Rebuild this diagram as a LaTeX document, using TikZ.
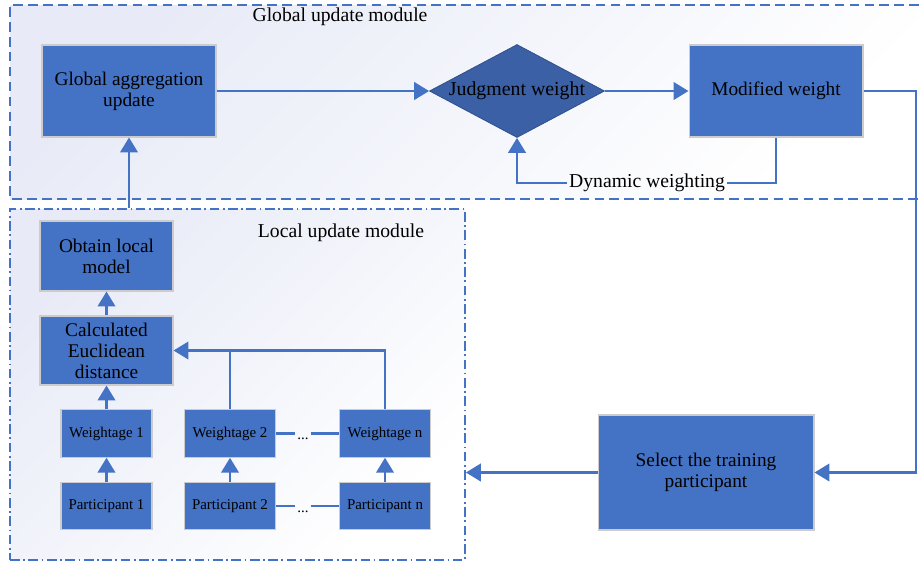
\documentclass[tikz,border=0pt]{standalone}
\usepackage{fontspec}
\setmainfont{Liberation Serif}
\usetikzlibrary{arrows.meta,positioning,shapes.geometric}
\definecolor{boxblue}{RGB}{68,114,196}
\definecolor{diablue}{RGB}{59,96,166}
\definecolor{modtint}{RGB}{232,235,247}

\begin{document}
\begin{tikzpicture}[x=0.02cm,y=-0.02cm,
  box/.style={draw=gray!40,line width=0.6pt,fill=boxblue,align=center,inner sep=1pt,font=\fontsize{11}{12}\selectfont},
  smallbox/.style={box,minimum width=1.82cm,minimum height=0.95cm,font=\fontsize{8.5}{10}\selectfont},
  link/.style={draw=boxblue,line width=1.3pt,-{Triangle[width=10pt,length=8.5pt]}},
  plain/.style={draw=boxblue,line width=1.3pt},
  modlabel/.style={font=\fontsize{11.2}{12}\selectfont},
  dots/.style={font=\fontsize{8.5}{10}\selectfont,inner sep=1pt,text height=1.6ex,text depth=0pt}]
  \useasboundingbox (0,0) rectangle (919,562);
  \shade[top color=modtint,middle color=white,bottom color=white,shading angle=45] (10,5) rectangle (919,199);
  \draw[boxblue,line width=1.1pt,dash pattern=on 5.5pt off 3pt] (919,5) -- (10,5) -- (10,199) -- (919,199);
  \node[minimum width=9.1cm,minimum height=7.02cm,inner sep=0pt,draw=boxblue,line width=1.1pt,
    dash pattern=on 5.5pt off 2pt on 1pt off 2pt,top color=modtint,middle color=white,bottom color=white,shading angle=45]
    (localmod) at (237.5,384.5) {};
  \node[modlabel] (globlabel) at (340,17) {Global update module};
  \node[modlabel] (loclabel) at (341,233) {Local update module};

  \node[box,minimum width=3.48cm,minimum height=1.84cm] (gau) at (129,91) {Global aggregation\\update};
  \node[diamond,draw=diablue!85!black,line width=0.5pt,fill=diablue,minimum width=3.5cm,minimum height=1.86cm,
    inner sep=0pt,aspect=1.88,font=\fontsize{11.3}{12}\selectfont] (jw) at (517,91) {Judgment weight};
  \node[box,minimum width=3.48cm,minimum height=1.84cm] (mw) at (776,91) {Modified weight};
  \node[modlabel,inner sep=1pt] (dyn) at (647,183) {Dynamic weighting};
  \node[box,minimum width=4.32cm,minimum height=2.3cm] (sel) at (706,472.5) {Select the training\\participant};

  \node[box,minimum width=2.66cm,minimum height=1.4cm] (olm) at (106.5,256) {Obtain local\\model};
  \node[box,minimum width=2.66cm,minimum height=1.38cm] (ced) at (106.5,350.5) {Calculated\\Euclidean\\distance};
  \foreach \n/\xx in {1/106.5,2/230,n/385}{
    \node[smallbox] (w\n) at (\xx,433.5) {Weightage \n};
    \node[smallbox] (p\n) at (\xx,506) {Participant \n};
    \draw[link] (p\n) -- (w\n);
  }
  \node[dots] (wdots) at (303,433.5) {...};
  \node[dots] (pdots) at (303,506) {...};

  \draw[link] (localmod.north -| gau.south) -- (gau.south);
  \draw[link] (gau.east) -- (jw.west);
  \draw[link] (jw.east) -- (mw.west);
  \draw[plain] (mw.south) |- (dyn.east);
  \draw[link] (dyn.west) -| (jw.south);
  \coordinate (turn) at (916,91);
  \draw[link] (mw.east) -- (turn) |- (sel.east);
  \draw[link] (sel.west) -- (sel.west -| localmod.east);
  \draw[link] (ced) -- (olm);
  \draw[link] (w1) -- (ced);
  \draw[link] (wn.north) |- (ced.east);
  \draw[plain] (w2.north) -- (w2.north |- ced.east);
  \draw[plain] (w2.east) -- (w2.east -| wdots.west);
  \draw[plain] (wdots.east |- wn.west) -- (wn.west);
  \draw[plain] (p2.east) -- (p2.east -| pdots.west);
  \draw[plain] (pdots.east |- pn.west) -- (pn.west);
\end{tikzpicture}
\end{document}
